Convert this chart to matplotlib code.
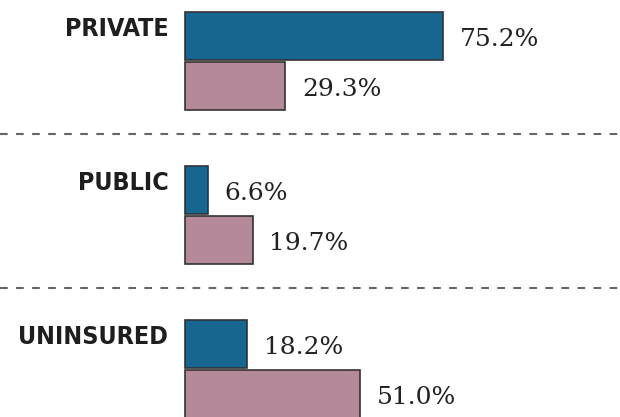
import matplotlib
matplotlib.use("Agg")
import matplotlib.pyplot as plt

categories = ["PRIVATE", "PUBLIC", "UNINSURED"]
series_a = [75.2, 6.6, 18.2]   # blue
series_b = [29.3, 19.7, 51.0]  # pink
labels_a = ["75.2%", "6.6%", "18.2%"]
labels_b = ["29.3%", "19.7%", "51.0%"]

BLUE = "#176591"
PINK = "#b48a9b"
EDGE = "#333333"

W, H = 620, 417
fig = plt.figure(figsize=(W / 100, H / 100), dpi=100)
ax = fig.add_axes([0, 0, 1, 1])
x0_px, px_per_pct = 185, 3.43
ax.set_xlim(-x0_px / px_per_pct, (W - x0_px) / px_per_pct)
ax.set_ylim(H, 0)
ax.axis("off")

val_font = "DejaVu Serif"

group_step = 154
bar_h = 48
top0 = 12
for i, cat in enumerate(categories):
    top = top0 + group_step * i
    ca = top + bar_h / 2
    cb = top + bar_h + 2 + bar_h / 2
    ax.barh(ca, series_a[i], height=bar_h, left=0, color=BLUE, edgecolor=EDGE, linewidth=1.2)
    ax.barh(cb, series_b[i], height=bar_h, left=0, color=PINK, edgecolor=EDGE, linewidth=1.2)
    ax.annotate(labels_a[i], (series_a[i], ca + 9.5), xytext=(12, 0), textcoords="offset points",
                ha="left", va="baseline", fontsize=18, family=val_font, color="#222222")
    ax.annotate(labels_b[i], (series_b[i], cb + 9.5), xytext=(12, 0), textcoords="offset points",
                ha="left", va="baseline", fontsize=18, family=val_font, color="#222222")
    ax.annotate(cat, (0, top + 24), xytext=(-12, 0), textcoords="offset points",
                ha="right", va="baseline", fontsize=18, family="DejaVu Sans",
                fontstretch="condensed", fontweight="bold", color="#1e1e1e")
    if i < len(categories) - 1:
        ax.axhline(top + 2 * bar_h + 2 + 24, color="#666666", lw=1.5,
                   dashes=(3.7, 4.0), xmin=0, xmax=1)

fig.savefig("out.png", dpi=100)
